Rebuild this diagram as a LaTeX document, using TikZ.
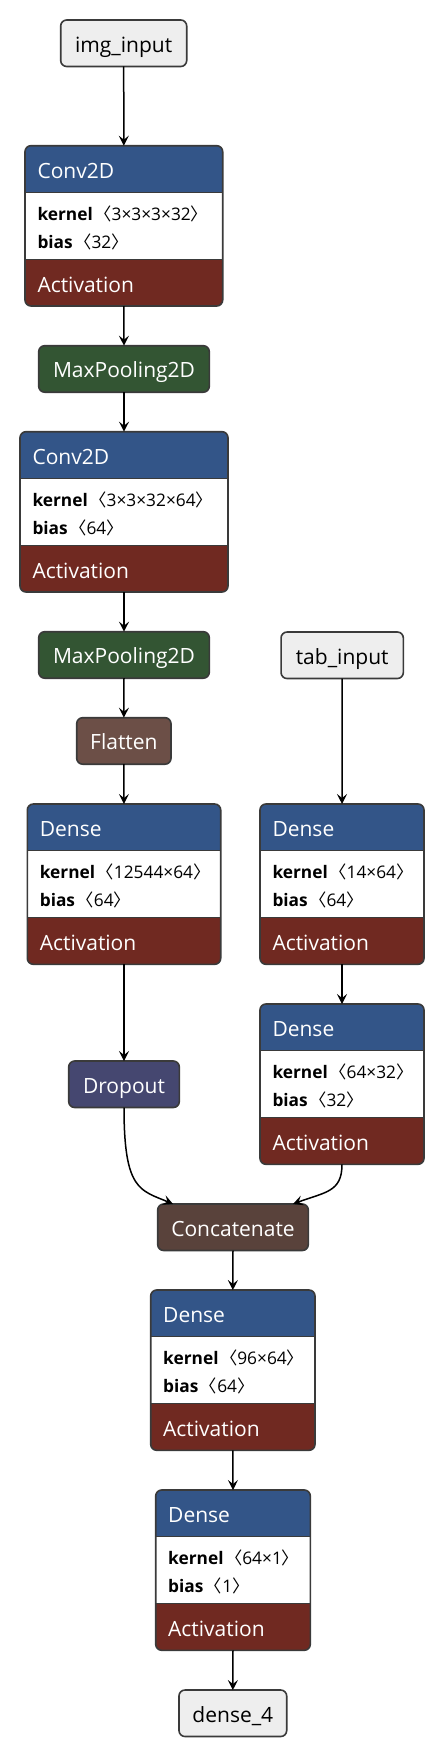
\documentclass[tikz,border=0pt]{standalone}
\usepackage{fontspec}
\setmainfont{Open Sans}
\newfontfamily\cjk{Noto Sans CJK SC}
\usetikzlibrary{calc,arrows.meta}
\definecolor{hdrblue}{RGB}{51,85,136}
\definecolor{actred}{RGB}{112,41,33}
\definecolor{poolgreen}{RGB}{51,85,51}
\definecolor{dropblue}{RGB}{69,71,112}
\definecolor{flatbrown}{RGB}{108,79,71}
\definecolor{catbrown}{RGB}{89,66,59}
\definecolor{inputgray}{RGB}{238,238,238}
\definecolor{bordergray}{RGB}{58,58,58}
\newcommand{\lb}{\hspace{1.5pt}{\cjk 〈}}
\newcommand{\rb}{{\cjk 〉}}
\tikzset{
  simplenode/.style={draw=bordergray, line width=1.6pt, rounded corners=6pt,
    minimum height=46.5pt, inner sep=0pt, outer sep=0pt, anchor=north,
    text height=22pt, text depth=4pt, font=\fontsize{21}{25}\selectfont},
  inputnode/.style={simplenode, fill=inputgray, text=black},
  poolnode/.style={simplenode, fill=poolgreen, text=white},
  dropnode/.style={simplenode, fill=dropblue, text=white},
  flatnode/.style={simplenode, fill=flatbrown, text=white},
  catnode/.style={simplenode, fill=catbrown, text=white},
  blockframe/.style={fill=white, minimum height=160.3pt, inner sep=0pt, outer sep=0pt, anchor=north},
  blockborder/.style={draw=bordergray, line width=1.6pt, rounded corners=6pt},
  sepline/.style={draw=bordergray, line width=1.6pt},
  titletext/.style={text=white, inner sep=0pt, anchor=base west, font=\fontsize{21}{25}\selectfont},
  bodytext/.style={text=black, inner sep=0pt, anchor=base west, font=\fontsize{17.3}{20}\selectfont},
  edge/.style={line width=1.5pt, draw=black, -{Stealth[length=10pt,width=10pt,inset=4pt]}},
}
% name, cx, top, width, title, kernel, bias
\newcommand{\layerblock}[7]{%
  \node[blockframe, minimum width=#4pt] (#1) at (#2,#3) {};
  \begin{scope}
    \clip[rounded corners=6pt] (#1.north west) rectangle (#1.south east);
    \fill[hdrblue] (#1.north west) rectangle ($(#1.north east)+(0,46.6)$);
    \fill[actred] ($(#1.south west)+(0,-46.7)$) rectangle (#1.south east);
  \end{scope}
  \draw[sepline] ($(#1.north west)+(0,46.6)$) -- ($(#1.north east)+(0,46.6)$);
  \draw[sepline] ($(#1.south west)+(0,-46.7)$) -- ($(#1.south east)+(0,-46.7)$);
  \draw[blockborder] (#1.north west) rectangle (#1.south east);
  \node[titletext] (#1-title) at ($(#1.north west)+(12.3,32.6)$) {#5};
  \node[bodytext] (#1-kernel) at ($(#1.north west)+(12.3,74.3)$) {\textbf{kernel}\lb#6\rb};
  \node[bodytext] (#1-bias) at ($(#1.north west)+(12.3,102.6)$) {\textbf{bias}\lb#7\rb};
  \node[titletext] (#1-act) at ($(#1.north west)+(12.3,146.6)$) {Activation};
}
\begin{document}
\begin{tikzpicture}[x=1pt,y=-1pt]
\fill[white] (0,0) rectangle (446,1758);
\useasboundingbox (0,0) rectangle (446,1758);

\node[inputnode, minimum width=126pt] (imgin) at (123.7,20) {img\_input};
\layerblock{conv1}{123.85}{145.7}{197.7}{Conv2D}{3×3×3×32}{32}
\node[poolnode, minimum width=170.6pt] (pool1) at (124,345.7) {MaxPooling2D};
\layerblock{conv2}{124}{431.7}{208}{Conv2D}{3×3×32×64}{64}
\node[poolnode, minimum width=170.6pt] (pool2) at (124,631.7) {MaxPooling2D};
\node[inputnode, minimum width=122.3pt] (tabin) at (342.2,632) {tab\_input};
\node[flatnode, minimum width=94.3pt] (flat) at (123.85,717.7) {Flatten};
\layerblock{denseL}{124}{804}{193.4}{Dense}{12544×64}{64}
\layerblock{denseR1}{342}{804}{164}{Dense}{14×64}{64}
\layerblock{denseR2}{342}{1004}{164}{Dense}{64×32}{32}
\node[dropnode, minimum width=110.6pt] (drop) at (124,1061) {Dropout};
\node[catnode, minimum width=150.6pt] (concat) at (233,1204) {Concatenate};
\layerblock{dense3}{232.85}{1290}{164.3}{Dense}{96×64}{64}
\layerblock{dense4}{233}{1490}{154.6}{Dense}{64×1}{1}
\node[inputnode, minimum width=107.7pt] (out) at (232.85,1690) {dense\_4};

\draw[edge] (imgin.south) -- (conv1.north);
\draw[edge] (conv1.south) -- (pool1.north);
\draw[edge] (pool1.south) -- (conv2.north);
\draw[edge] (conv2.south) -- (pool2.north);
\draw[edge] (pool2.south) -- (flat.north);
\draw[edge] (flat.south) -- (denseL.north);
\draw[edge] (tabin.south) -- (denseR1.north);
\draw[edge] (denseR1.south) -- (denseR2.north);
\draw[edge] (denseL.south) -- (drop.north);
\draw[edge] (drop.south) .. controls +(0,83) and +(-33,-14) .. ($(concat.north)+(-60,0)$);
\draw[edge] (denseR2.south) .. controls +(0,28) and +(32,-12) .. ($(concat.north)+(60,0)$);
\draw[edge] (concat.south) -- (dense3.north);
\draw[edge] (dense3.south) -- (dense4.north);
\draw[edge] (dense4.south) -- (out.north);
\end{tikzpicture}
\end{document}
